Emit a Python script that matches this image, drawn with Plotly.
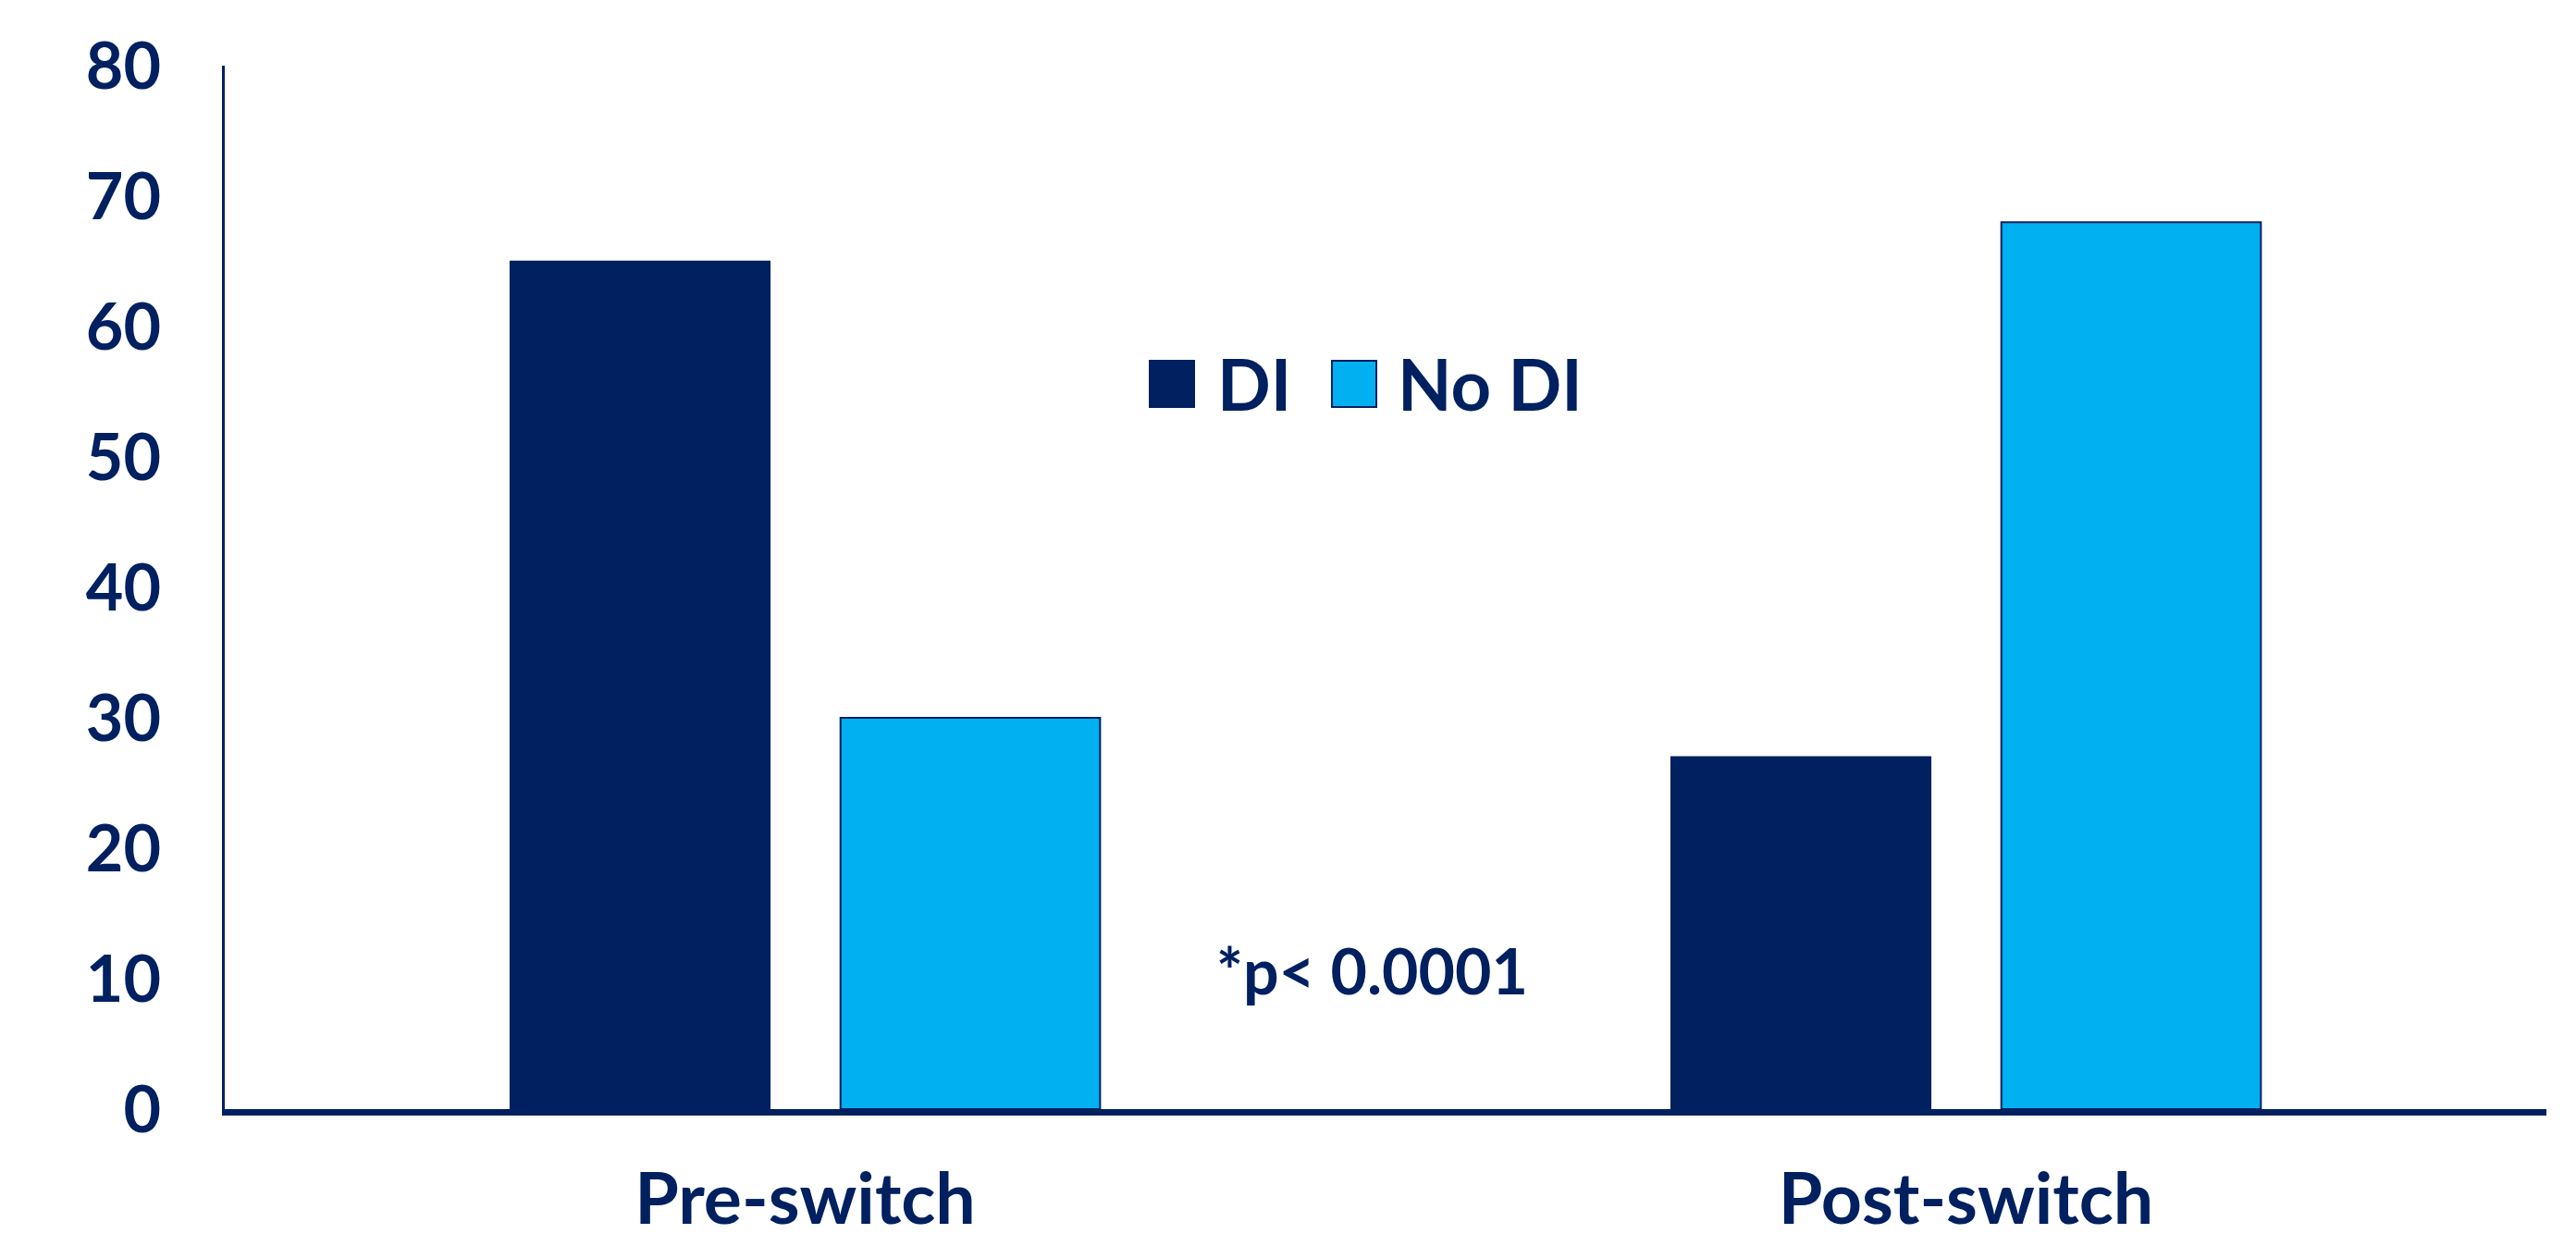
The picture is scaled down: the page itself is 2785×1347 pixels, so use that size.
import plotly.graph_objects as go

categories = ["Pre-switch", "Post-switch"]
di_values = [65, 27]
no_di_values = [30, 68]
y_ticks = [0, 10, 20, 30, 40, 50, 60, 70, 80]
series_names = ["DI", "No DI"]
note_text = "*p< 0.0001"

NAVY = "#002060"
CYAN = "#00B0F0"
FONT = "Lato"

fig = go.Figure()
fig.add_trace(go.Bar(name=series_names[0], x=categories, y=di_values,
                     marker=dict(color=NAVY, line=dict(color=NAVY, width=1.5)),
                     showlegend=False))
fig.add_trace(go.Bar(name=series_names[1], x=categories, y=no_di_values,
                     marker=dict(color=CYAN, line=dict(color=NAVY, width=2)),
                     showlegend=False))

W, H = 2785, 1347
L, R, T, B = 243, 32, 71, 148
PW, PH = W - L - R, H - T - B

def px(x):
    return (x - L) / PW

def py(y):
    return (H - B - y) / PH

# legend swatches and labels
sw = [(1243, 1291, NAVY, NAVY), (1440, 1488, CYAN, NAVY)]
for (x0, x1, fc, lc) in sw:
    fig.add_shape(type="rect", xref="paper", yref="paper",
                  x0=px(x0), x1=px(x1), y0=py(440), y1=py(390),
                  fillcolor=fc, line=dict(color=lc, width=2))
for xl, txt in [(1314, series_names[0]), (1509, series_names[1])]:
    fig.add_annotation(xref="paper", yref="paper", x=px(xl), y=py(414),
                       text=txt, showarrow=False, xanchor="left", yanchor="middle",
                       font=dict(family=FONT, size=76, color=NAVY, weight="bold"))

fig.add_annotation(xref="paper", yref="y", x=px(1483), y=10.7, text=note_text,
                   showarrow=False, xanchor="center", yanchor="middle",
                   font=dict(family=FONT, size=68, color=NAVY, weight="bold"))

fig.update_layout(
    width=W, height=H,
    margin=dict(l=L, r=R, t=T, b=B, pad=0, autoexpand=False),
    paper_bgcolor="white", plot_bgcolor="white",
    barmode="group", bargap=0.431, bargroupgap=0.214,
    xaxis=dict(showline=True, linecolor=NAVY, linewidth=7, showgrid=False,
               ticks="", ticklabelstandoff=25, automargin=False,
               tickfont=dict(family=FONT, size=77, color=NAVY, weight="bold")),
    yaxis=dict(range=[0, 80], tickvals=y_ticks, showline=True, linecolor=NAVY,
               linewidth=3, showgrid=False, zeroline=False, ticks="",
               ticklabelstandoff=52, automargin=False,
               tickfont=dict(family=FONT, size=70, color=NAVY, weight="bold")),
)

fig.write_html("out.html")
